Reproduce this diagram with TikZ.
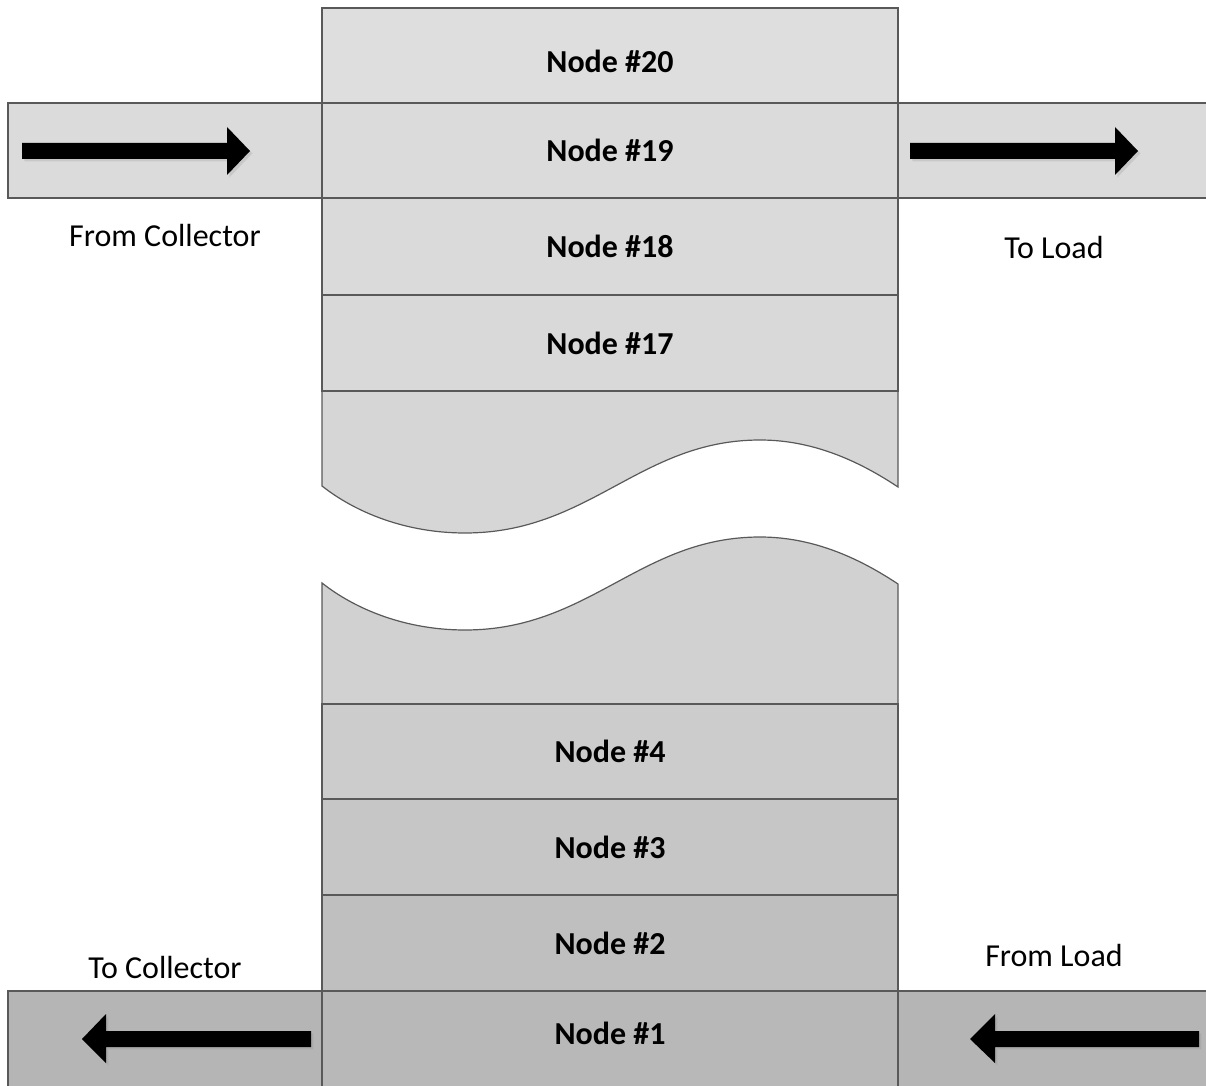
\documentclass[tikz,border=0pt]{standalone}
\usepackage{fontspec}
\setmainfont{Carlito}
\usetikzlibrary{shadows}

\definecolor{edgegray}{HTML}{595959}

\tikzset{
  band/.style={draw=edgegray, line width=0.6pt, minimum width=288pt, inner sep=0pt,
    font=\bfseries\fontsize{16}{19}\selectfont},
  sidebar/.style={draw=edgegray, line width=0.6pt},
  blockarrow/.style={fill=black, drop shadow={shadow xshift=1.2pt, shadow yshift=-1.2pt, opacity=0.2}},
  caption/.style={font=\fontsize{16}{19}\selectfont}
}

\begin{document}
\begin{tikzpicture}[x=0.5pt,y=-0.5pt]
  \useasboundingbox (0,0) rectangle (1206,1086);
  \clip (0,0) rectangle (1206,1086);

  % pipes in and out
  \draw[sidebar, fill=black!14] (8,103) rectangle (322,198);
  \draw[sidebar, fill=black!14] (898,103) rectangle (1215,198);
  \draw[sidebar, fill=black!29] (8,991) rectangle (322,1095);
  \draw[sidebar, fill=black!29] (898,991) rectangle (1215,1095);

  \fill[blockarrow] (22,143) -- (227,143) -- (227,127) -- (250,151) -- (227,175) -- (227,159) -- (22,159) -- cycle;
  \fill[blockarrow] (910,143) -- (1115,143) -- (1115,127) -- (1138,151) -- (1115,175) -- (1115,159) -- (910,159) -- cycle;
  \fill[blockarrow] (311,1031) -- (106,1031) -- (106,1014) -- (82,1039) -- (106,1063) -- (106,1047) -- (311,1047) -- cycle;
  \fill[blockarrow] (1199,1031) -- (995,1031) -- (995,1014) -- (970,1039) -- (995,1063) -- (995,1047) -- (1199,1047) -- cycle;

  % broken part of the tank
  \draw[draw=edgegray, line width=0.6pt, fill=black!16]
    (322,391) -- (898,391) -- (898,487)
    .. controls (850,455) and (805,440) .. (760,440)
    .. controls (640,440) and (590,533) .. (465,533)
    .. controls (405,533) and (355,512) .. (322,486) -- cycle;
  \draw[draw=edgegray, line width=0.6pt, fill=black!18]
    (322,704) -- (898,704) -- (898,584)
    .. controls (850,552) and (805,537) .. (760,537)
    .. controls (640,537) and (590,630) .. (465,630)
    .. controls (405,630) and (355,609) .. (322,583) -- cycle;

  % tank layers
  \node[band, fill=black!13, minimum height=47.5pt, text height=17pt, text depth=0pt] (n20) at (610,55.5) {Node \#20};
  \node[band, fill=black!14, minimum height=47.5pt] (n19) at (610,150.5) {Node \#19};
  \node[band, fill=black!14.5, minimum height=48.5pt] (n18) at (610,246.5) {Node \#18};
  \node[band, fill=black!15, minimum height=48pt] (n17) at (610,343) {Node \#17};

  \node[band, fill=black!20, minimum height=47.5pt] (n4) at (610,751.5) {Node \#4};
  \node[band, fill=black!22.5, minimum height=48pt] (n3) at (610,847) {Node \#3};
  \node[band, fill=black!25, minimum height=48pt] (n2) at (610,943) {Node \#2};
  \node[band, fill=black!28, minimum height=52pt, text depth=10pt] (n1) at (610,1043) {Node \#1};

  \node[caption] (fromcol) at (165,236) {From Collector};
  \node[caption] (toload) at (1054,248) {To Load};
  \node[caption] (tocol) at (165,968) {To Collector};
  \node[caption] (fromload) at (1054,956) {From Load};

\end{tikzpicture}
\end{document}
